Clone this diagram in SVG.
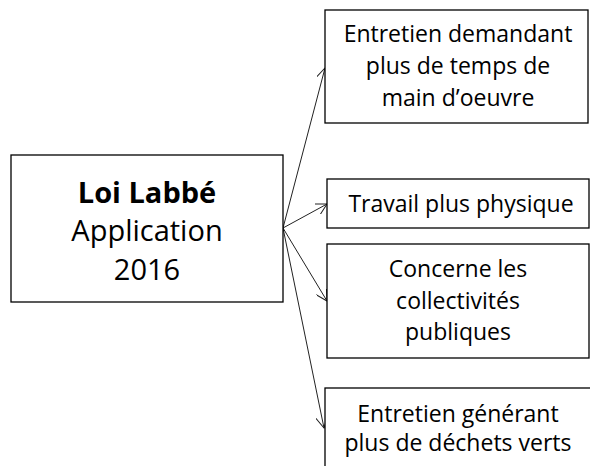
<svg xmlns="http://www.w3.org/2000/svg" width="590" height="466" viewBox="0 0 590 466">
<style>
.box{fill:#fff;stroke:#000;stroke-width:1.3}
.t{font-family:"Open Sans","Liberation Sans",sans-serif;font-size:23px;fill:#000;text-anchor:middle}
.m{font-family:"Open Sans","Liberation Sans",sans-serif;font-size:29px;fill:#000;text-anchor:middle}
.c{stroke:#222;stroke-width:1;fill:none;marker-end:url(#ah)}
</style>
<defs>
<marker id="ah" viewBox="0 0 12 12" refX="11" refY="6" markerWidth="12" markerHeight="12" markerUnits="userSpaceOnUse" orient="auto">
<path d="M0,0 L11,6 L0,12" fill="none" stroke="#222" stroke-width="1"/>
</marker>
</defs>
<rect width="590" height="466" fill="#fff"/>
<g id="connectors">
<line class="c" x1="283" y1="228" x2="325" y2="68"/>
<line class="c" x1="283" y1="228" x2="327" y2="204"/>
<line class="c" x1="283" y1="228" x2="327" y2="301"/>
<line class="c" x1="283" y1="228" x2="324" y2="428"/>
</g>
<g id="main">
<rect class="box" x="11" y="155" width="272" height="147"/>
<text class="m" x="147" y="203" font-weight="bold">Loi Labbé</text>
<text class="m" x="147" y="241">Application</text>
<text class="m" x="147" y="280">2016</text>
</g>
<g id="n1">
<rect class="box" x="325" y="10" width="263" height="113"/>
<text class="t" x="458" y="42">Entretien demandant</text>
<text class="t" x="458" y="74">plus de temps de</text>
<text class="t" x="458" y="106">main d’oeuvre</text>
</g>
<g id="n2">
<rect class="box" x="327" y="179" width="262" height="49"/>
<text class="t" x="461" y="212">Travail plus physique</text>
</g>
<g id="n3">
<rect class="box" x="327" y="244" width="262" height="114"/>
<text class="t" x="458" y="277">Concerne les</text>
<text class="t" x="458" y="309">collectivités</text>
<text class="t" x="458" y="340">publiques</text>
</g>
<g id="n4">
<rect class="box" x="325" y="388" width="280" height="100"/>
<text class="t" x="458" y="422">Entretien générant</text>
<text class="t" x="458" y="451">plus de déchets verts</text>
</g>
</svg>
